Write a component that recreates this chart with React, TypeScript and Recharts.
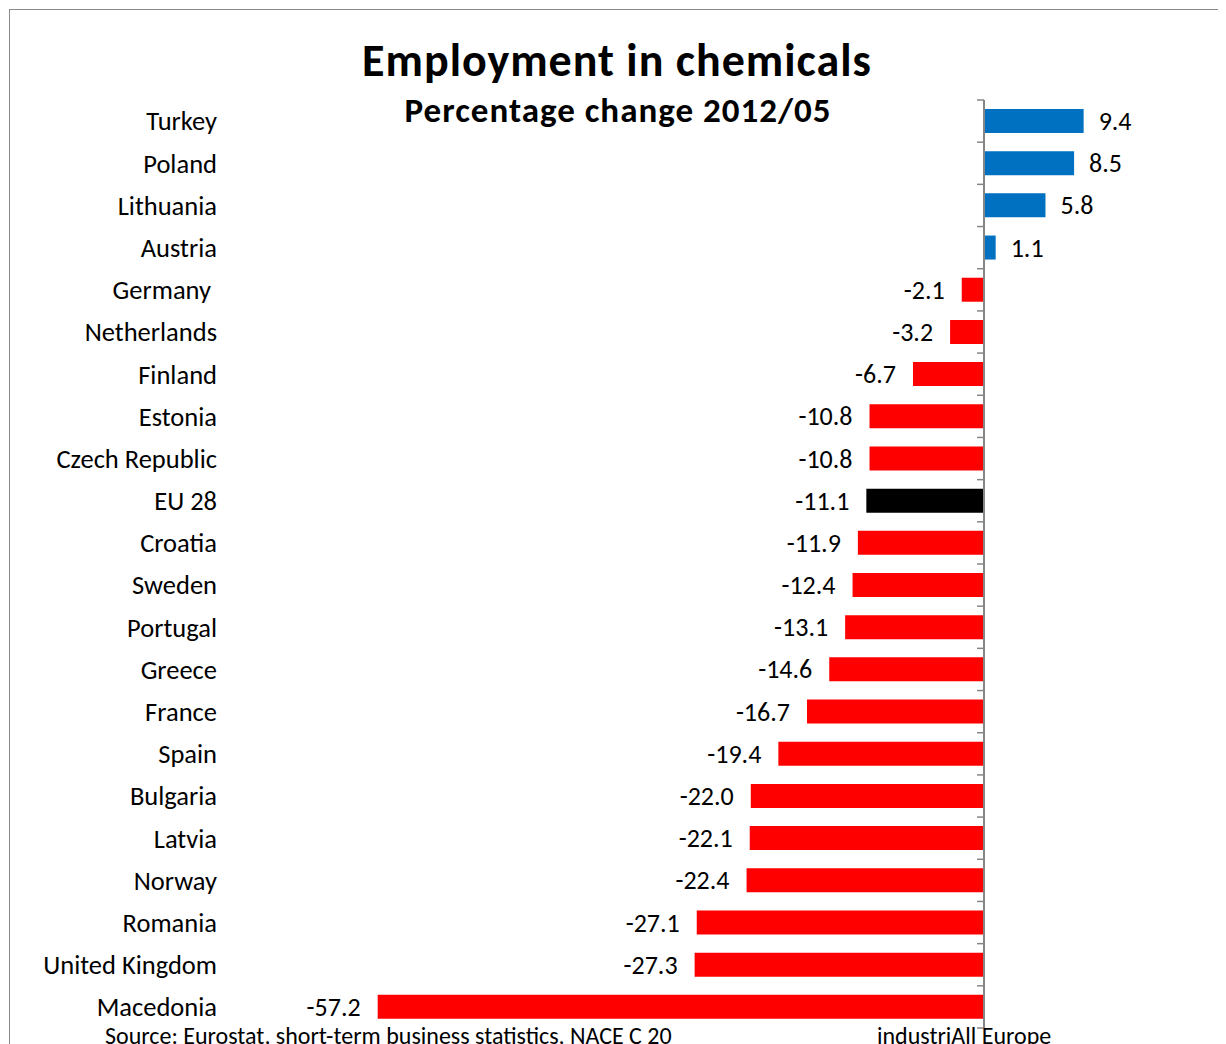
import { BarChart, Bar, XAxis, YAxis, ReferenceLine, Cell, LabelList } from 'recharts'

const countries = [
  'Turkey', 'Poland', 'Lithuania', 'Austria', 'Germany\u00a0', 'Netherlands', 'Finland',
  'Estonia', 'Czech Republic', 'EU 28', 'Croatia', 'Sweden', 'Portugal', 'Greece',
  'France', 'Spain', 'Bulgaria', 'Latvia', 'Norway', 'Romania', 'United Kingdom', 'Macedonia'
]

const changes = [
  9.4, 8.5, 5.8, 1.1, -2.1, -3.2, -6.7,
  -10.8, -10.8, -11.1, -11.9, -12.4, -13.1, -14.6,
  -16.7, -19.4, -22.0, -22.1, -22.4, -27.1, -27.3, -57.2
]

const highlight = 'EU 28'
const valueDomain = [-60, 10]

const data = countries.map((country, i) => ({ country, change: changes[i] }))

const FONT = 'Carlito, Lato, sans-serif'
const AXIS_GREY = '#868686'

function barColor(country: string, value: number) {
  if (country === highlight) return '#000000'
  return value >= 0 ? '#0070C0' : '#FF0000'
}

// value label sits just beyond the end of each bar
function ValueLabel(props: any) {
  const { x, y, width, height, value } = props
  const left = Math.min(x, x + width)
  const right = Math.max(x, x + width)
  const neg = value < 0
  return (
    <text
      x={neg ? left - 17 : right + 15}
      y={y + height / 2}
      dy="0.35em"
      textAnchor={neg ? 'end' : 'start'}
      fontSize={26}
      fontFamily={FONT}
      fill="#000"
    >
      {Number(value).toFixed(1)}
    </text>
  )
}

// zero axis with tick marks between the categories (Excel style)
function ZeroAxis(props: any) {
  const { x1, y1, y2 } = props
  const n = countries.length
  const step = (y2 - y1) / n
  return (
    <g>
      <line x1={x1} y1={y1} x2={x1} y2={y2} stroke={AXIS_GREY} strokeWidth={2} />
      {countries.concat(['']).map((_, i) => (
        <line key={i} x1={x1 - 7} x2={x1} y1={y1 + i * step} y2={y1 + i * step} stroke={AXIS_GREY} strokeWidth={1.5} />
      ))}
    </g>
  )
}

export default function App() {
  return (
    <div style={{ position: 'relative', width: 1218, height: 1036, overflow: 'hidden', fontFamily: FONT, background: '#fff' }}>
      <div style={{ position: 'absolute', left: 1, top: 1, width: 1400, height: 1400, border: '1.5px solid #8a8a8a' }} />

      <BarChart
        width={1218}
        height={1036}
        data={data}
        layout="vertical"
        margin={{ top: 92, right: 136, bottom: 16, left: 0 }}
        style={{ position: 'absolute', left: 0, top: 0 }}
      >
        <XAxis type="number" domain={valueDomain} hide />
        <YAxis
          type="category"
          dataKey="country"
          width={340}
          axisLine={false}
          tickLine={false}
          tickSize={0}
          tickMargin={131}
          tick={{ fontSize: 26.5, fill: '#000', fontFamily: FONT }}
          interval={0}
        />
        <Bar dataKey="change" barSize={24} isAnimationActive={false}>
          {data.map((d) => (
            <Cell key={d.country} fill={barColor(d.country, d.change)} />
          ))}
          <LabelList dataKey="change" content={ValueLabel} />
        </Bar>
        <ReferenceLine x={0} shape={ZeroAxis} ifOverflow="visible" />
      </BarChart>

      <div style={{ position: 'absolute', left: 0, top: 29, width: 1218, textAlign: 'center', fontSize: 46, fontWeight: 700, lineHeight: '46px', letterSpacing: 1 }}>
        Employment in chemicals
      </div>
      <div style={{ position: 'absolute', left: 1, top: 85, width: 1218, textAlign: 'center', fontSize: 35, fontWeight: 700, lineHeight: '35px', letterSpacing: 1 }}>
        Percentage change 2012/05
      </div>

      <div style={{ position: 'absolute', left: 97, top: 1015, fontSize: 24, lineHeight: '26px', whiteSpace: 'nowrap' }}>
        Source: Eurostat, short-term business statistics, NACE C 20
      </div>
      <div style={{ position: 'absolute', left: 869, top: 1015, fontSize: 24, lineHeight: '26px', whiteSpace: 'nowrap' }}>
        industriAll Europe
      </div>
    </div>
  )
}
